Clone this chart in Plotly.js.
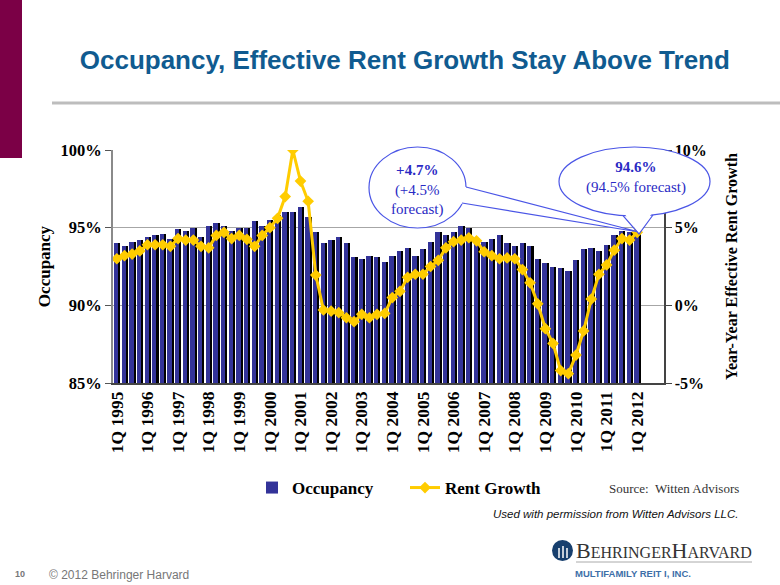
<!DOCTYPE html>
<html>
<head>
<meta charset="utf-8">
<script src="https://cdn.plot.ly/plotly-3.0.1.min.js"></script>
<style>html,body{margin:0;padding:0;background:#fff;}#chart{width:780px;height:585px;}</style>
</head>
<body>
<div id="chart"></div>
<script>
// Quarters 1Q 1995 .. 1Q 2012 (index 0..68)
const quarterIndex = Array.from({length: 69}, (_, i) => i);

const occupancy = [
  94.0, 93.8, 94.1, 94.2, 94.4, 94.5, 94.6, 94.3,
  94.9, 94.8, 95.0, 94.4, 95.1, 95.3, 95.1, 94.8,
  95.0, 95.0, 95.4, 95.1, 95.5, 95.8, 96.0, 96.0,
  96.3, 95.7, 94.7, 94.0, 94.2, 94.4, 94.0, 93.1,
  93.0, 93.2, 93.1, 92.8, 93.2, 93.5, 93.7, 93.2,
  93.6, 94.1, 94.7, 94.5, 94.7, 95.1, 95.0, 94.3,
  94.1, 94.3, 94.5, 94.0, 93.8, 94.0, 93.8, 93.0,
  92.7, 92.5, 92.4, 92.2, 92.9, 93.6, 93.7, 93.5,
  93.9, 94.5, 94.8, 94.7, 94.6
];

const rentGrowth = [
  3.0, 3.2, 3.3, 3.5, 3.9, 3.9, 3.9, 3.8,
  4.3, 4.2, 4.2, 3.8, 3.7, 4.5, 4.7, 4.3,
  4.5, 4.25, 3.8, 4.5, 5.0, 5.6, 7.0, 10.0,
  8.0, 6.7, 1.95, -0.3, -0.37, -0.47, -0.8, -1.05,
  -0.58, -0.8, -0.58, -0.52, 0.5, 0.9, 1.8, 2.0,
  2.0, 2.5, 2.9, 3.7, 4.1, 4.2, 4.35, 4.15,
  3.45, 3.2, 3.0, 3.05, 3.0, 2.3, 1.45, 0.1,
  -1.5, -2.45, -4.2, -4.4, -3.2, -1.65, 0.4, 2.0,
  2.6, 3.55, 4.3, 4.2, 4.7
];

const tickLabels = ["1Q 1995","1Q 1996","1Q 1997","1Q 1998","1Q 1999","1Q 2000",
  "1Q 2001","1Q 2002","1Q 2003","1Q 2004","1Q 2005","1Q 2006","1Q 2007","1Q 2008",
  "1Q 2009","1Q 2010","1Q 2011","1Q 2012"];
const tickPositions = tickLabels.map((_, k) => k * 4);
const yearBoundaries = Array.from({length: 19}, (_, k) => k * 4 - 0.5);

const occTicks = [85, 90, 95, 100];
const rentTicks = [-5, 0, 5, 10];

const SERIF = "Liberation Serif, DejaVu Serif, serif";
const SANS = "Liberation Sans, Arial, sans-serif";
const CALLOUT = "#4a55e6";
const CALLTEXT = "#2a2ac4";

// paper coordinate helpers (plot area: x 113..664, y 150..383)
const PX = p => (p - 113) / 551;
const PY = p => (383 - p) / 233;

const traces = [
  { type: 'bar', x: quarterIndex, y: occupancy, width: 0.75, offset: -0.3,
    marker: {color: '#000000', line: {width: 0}}, showlegend: false, hoverinfo: 'skip' },
  { type: 'bar', x: quarterIndex, y: occupancy, width: 0.56, offset: -0.38,
    marker: {color: '#333399', line: {width: 0}}, name: '<b>Occupancy</b>' },
  { type: 'scatter', mode: 'lines+markers', x: quarterIndex, y: rentGrowth, yaxis: 'y2',
    line: {color: '#FFCC00', width: 3}, marker: {symbol: 'diamond', size: 9, color: '#FFCC00'},
    name: '<b>Rent Growth</b>' }
];

function pathOf(pts, close) {
  return pts.map((p, k) => (k ? 'L' : 'M') + PX(p[0]).toFixed(4) + ',' + PY(p[1]).toFixed(4)).join(' ') + (close ? ' Z' : '');
}

const shapes = [
  {type: 'rect', xref: 'paper', yref: 'paper', x0: PX(0), x1: PX(22), y0: PY(158), y1: PY(-5),
   fillcolor: '#7B0046', line: {width: 0}, layer: 'above'},
  {type: 'line', xref: 'paper', yref: 'paper', x0: PX(52), x1: PX(782), y0: PY(103), y1: PY(103),
   line: {color: '#BDBDBD', width: 3}},
  // callout 1
  {type: 'circle', xref: 'paper', yref: 'paper', x0: PX(369), x1: PX(466), y0: PY(228), y1: PY(147),
   fillcolor: '#ffffff', line: {color: CALLOUT, width: 1.2}, layer: 'above'},
  {type: 'path', xref: 'paper', yref: 'paper', path: pathOf([[462,186],[639,232],[457,203]], true),
   fillcolor: '#ffffff', line: {width: 0}, layer: 'above'},
  {type: 'path', xref: 'paper', yref: 'paper', path: pathOf([[466,187],[639,232],[462,203]], false),
   fillcolor: 'rgba(0,0,0,0)', line: {color: CALLOUT, width: 1.2}, layer: 'above'},
  // callout 2
  {type: 'circle', xref: 'paper', yref: 'paper', x0: PX(559), x1: PX(710), y0: PY(216), y1: PY(147),
   fillcolor: '#ffffff', line: {color: CALLOUT, width: 1.2}, layer: 'above'},
  {type: 'path', xref: 'paper', yref: 'paper', path: pathOf([[624,213],[639,234],[652,213]], true),
   fillcolor: '#ffffff', line: {width: 0}, layer: 'above'},
  {type: 'path', xref: 'paper', yref: 'paper', path: pathOf([[623,215.6],[639,234],[653,215]], false),
   fillcolor: 'rgba(0,0,0,0)', line: {color: CALLOUT, width: 1.2}, layer: 'above'},
  // logo mark
  {type: 'circle', xref: 'paper', yref: 'paper', x0: PX(552), x1: PX(573), y0: PY(561), y1: PY(540),
   fillcolor: '#173F6E', line: {width: 0}},
  {type: 'line', xref: 'paper', yref: 'paper', x0: PX(559), x1: PX(559), y0: PY(558), y1: PY(548),
   line: {color: '#ffffff', width: 1.5}},
  {type: 'line', xref: 'paper', yref: 'paper', x0: PX(563), x1: PX(563), y0: PY(558), y1: PY(546),
   line: {color: '#ffffff', width: 1.5}},
  {type: 'line', xref: 'paper', yref: 'paper', x0: PX(567), x1: PX(567), y0: PY(558), y1: PY(548),
   line: {color: '#ffffff', width: 1.5}},
  {type: 'line', xref: 'paper', yref: 'paper', x0: PX(576), x1: PX(752), y0: PY(562), y1: PY(562),
   line: {color: '#AAAAAA', width: 1}}
];

function note(x, y, text, font) {
  return {xref: 'paper', yref: 'paper', x: PX(x), y: PY(y), xanchor: 'center', yanchor: 'middle',
    showarrow: false, align: 'center', text: text, font: font};
}

const annotations = [
  note(417, 190, '<b>+4.7%</b><br>(+4.5%<br>forecast)', {family: SERIF, size: 15, color: CALLTEXT}),
  note(636, 177, '<b>94.6%</b><br>(94.5% forecast)', {family: SERIF, size: 15, color: CALLTEXT}),
  note(674, 488, 'Source:  Witten Advisors', {family: SERIF, size: 13, color: '#333333'}),
  note(616, 514, '<i>Used with permission from Witten Advisors LLC.</i>', {family: SANS, size: 11.5, color: '#111111'}),
  note(664, 550, 'B<span style="font-size:16px">EHRINGER</span>H<span style="font-size:16px">ARVARD</span>',
    {family: SERIF, size: 22, color: '#333333'}),
  note(633, 573, '<b>MULTIFAMILY REIT I, INC.</b>', {family: SANS, size: 9.5, color: '#3D6FA8'}),
  note(20, 574, '<b>10</b>', {family: SANS, size: 9, color: '#777777'}),
  note(119, 575, '© 2012 Behringer Harvard', {family: SANS, size: 12, color: '#777777'})
];

const layout = {
  width: 780, height: 585,
  margin: {l: 113, r: 116, t: 150, b: 202},
  paper_bgcolor: '#ffffff', plot_bgcolor: '#ffffff',
  barmode: 'overlay', bargap: 0,
  title: {text: '<b>Occupancy, Effective Rent Growth Stay Above Trend</b>', xref: 'container', yref: 'container',
    x: 0.519, xanchor: 'center', y: 1 - 60/585, yanchor: 'middle',
    font: {family: SANS, size: 26, color: '#105B90'}},
  xaxis: {range: [-0.5, 71.5], tickmode: 'array', tickvals: tickPositions,
    ticktext: tickLabels.map(t => '<b>' + t + '</b>'),
    tickangle: -90, ticks: '', showgrid: false, zeroline: false, showline: true,
    linecolor: '#444444', linewidth: 1.5, tickfont: {family: SERIF, size: 17.5, color: '#000000'}},
  xaxis2: {overlaying: 'x', anchor: 'y', side: 'bottom', range: [-0.5, 71.5], tickmode: 'array',
    tickvals: yearBoundaries, ticks: 'outside', ticklen: 6, tickcolor: '#444444', tickwidth: 1.2,
    showticklabels: false, showgrid: true, gridcolor: '#DDDDDD', gridwidth: 1, zeroline: false, showline: false},
  yaxis: {range: [85, 100], tickmode: 'array', tickvals: occTicks,
    ticktext: occTicks.map(v => '<b>' + v + '%</b>'),
    showgrid: true, gridcolor: '#A6A6A6', gridwidth: 1, zeroline: false, showline: true,
    linecolor: '#8A8A8A', linewidth: 2, ticks: 'outside', ticklen: 6, tickcolor: '#555555',
    tickfont: {family: SERIF, size: 16.5, color: '#000000'},
    title: {text: '<b>Occupancy</b>', font: {family: SERIF, size: 17, color: '#000000'}, standoff: 6}},
  yaxis2: {overlaying: 'y', side: 'right', range: [-5, 10], tickmode: 'array', tickvals: rentTicks,
    ticktext: rentTicks.map(v => '<b>' + v + '%</b>'),
    showgrid: false, zeroline: false, showline: true, linecolor: '#444444', linewidth: 1.5,
    ticks: 'outside', ticklen: 6, tickcolor: '#444444',
    tickfont: {family: SERIF, size: 16, color: '#000000'},
    title: {text: '<b>Year-Year Effective Rent Growth</b>', font: {family: SERIF, size: 16, color: '#000000'}, standoff: 20}},
  legend: {orientation: 'h', x: PX(252), xanchor: 'left', y: PY(488), yanchor: 'middle',
    font: {family: SERIF, size: 17, color: '#000000'}, itemwidth: 30, traceorder: 'normal',
    entrywidth: 108, entrywidthmode: 'pixels', bgcolor: 'rgba(0,0,0,0)'},
  shapes: shapes,
  annotations: annotations,
  showlegend: true
};

Plotly.newPlot('chart', traces, layout, {displayModeBar: false, staticPlot: true});
</script>
</body>
</html>
